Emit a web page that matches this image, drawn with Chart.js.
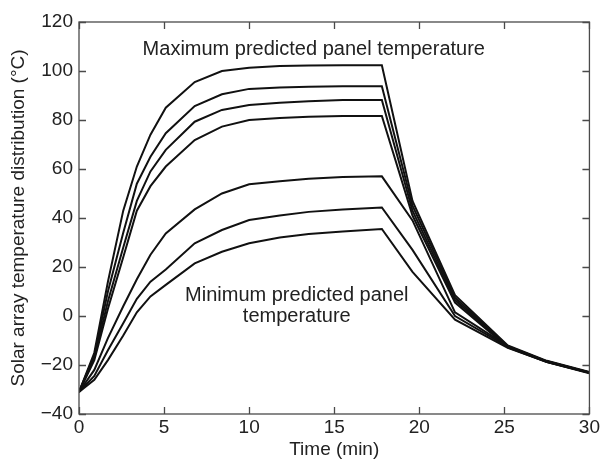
<!DOCTYPE html>
<html>
<head>
<meta charset="utf-8">
<script src="https://cdn.jsdelivr.net/npm/chart.js@4/dist/chart.umd.min.js"></script>
<style>
  html, body { margin: 0; padding: 0; background: #fff; }
  #wrap { width: 602px; height: 463px; }
</style>
</head>
<body>
<div id="wrap"><canvas id="c" width="602" height="463"></canvas></div>
<script>
const times = [0, 0.9, 1.7, 2.6, 3.4, 4.2, 5.1, 6.8, 8.4, 10, 11.8, 13.5, 15.5, 17.8, 19.6, 22.1, 25.2, 27.5, 30];
const curve1 = [-31, -15, 14, 43, 61, 74, 85, 95.5, 100, 101.3, 102, 102.2, 102.3, 102.3, 47, 8.5, -12, -18.3, -22.8];
const curve2 = [-31, -16, 10, 34, 54, 65, 74.6, 85.7, 90.5, 92.7, 93.3, 93.6, 93.8, 93.8, 45, 7.5, -12.3, -18.5, -23];
const curve3 = [-31, -17, 6, 28, 47, 59, 67.8, 79.3, 84.1, 86.1, 87, 87.7, 88.2, 88.2, 43, 6.5, -12.6, -18.7, -23.2];
const curve4 = [-31, -18, 3, 24, 43, 53, 61, 71.8, 77.3, 80, 80.8, 81.3, 81.6, 81.6, 41, 5.5, -12.8, -18.8, -23.4];
const curve5 = [-31, -22, -9, 4, 15, 25, 33.7, 43.5, 50, 53.8, 55, 56, 56.7, 57, 39, 1.5, -12.3, -18.5, -23];
const curve6 = [-31, -24.5, -14, -3, 7, 14, 19, 29.7, 35.1, 39.2, 41, 42.5, 43.5, 44.3, 27, 0, -12.6, -18.6, -23.1];
const curve7 = [-31, -26, -18, -8, 1.5, 8, 12.7, 21.5, 26.2, 29.7, 32, 33.5, 34.5, 35.5, 18, -1.5, -13, -18.8, -23.2];
const curves = [curve1, curve2, curve3, curve4, curve5, curve6, curve7];
const xTicks = [0, 5, 10, 15, 20, 25, 30];
const yTicks = [-40, -20, 0, 20, 40, 60, 80, 100, 120];
const xTitle = 'Time (min)';
const yTitle = 'Solar array temperature distribution (°C)';
const maxLabel = 'Maximum predicted panel temperature';
const minLabel = ['Minimum predicted panel', 'temperature'];

const FONT = '"Liberation Sans", Arial, Helvetica, sans-serif';
const fmt = v => (v < 0 ? '\u2212' + Math.abs(v) : String(v));

const framePlugin = {
  id: 'frame',
  afterDraw(chart) {
    const { ctx, chartArea: a, scales: { x, y } } = chart;
    ctx.save();
    ctx.strokeStyle = '#4a4a4a';
    ctx.lineWidth = 1.3;
    ctx.strokeRect(a.left, a.top, a.right - a.left, a.bottom - a.top);
    const L = 7;
    ctx.beginPath();
    xTicks.forEach(v => {
      const px = Math.round(x.getPixelForValue(v)) + 0.5;
      ctx.moveTo(px, a.bottom); ctx.lineTo(px, a.bottom - L);
      ctx.moveTo(px, a.top); ctx.lineTo(px, a.top + L);
    });
    yTicks.forEach(v => {
      const py = Math.round(y.getPixelForValue(v)) + 0.5;
      ctx.moveTo(a.left, py); ctx.lineTo(a.left + L, py);
      ctx.moveTo(a.right, py); ctx.lineTo(a.right - L, py);
    });
    ctx.stroke();
    ctx.fillStyle = '#222';
    ctx.font = '20px ' + FONT;
    ctx.textAlign = 'center';
    ctx.textBaseline = 'middle';
    ctx.fillText(maxLabel, x.getPixelForValue(13.8), y.getPixelForValue(108.6));
    ctx.fillText(minLabel[0], x.getPixelForValue(12.8), y.getPixelForValue(8.2));
    ctx.fillText(minLabel[1], x.getPixelForValue(12.8), y.getPixelForValue(0));
    ctx.restore();
  }
};

new Chart(document.getElementById('c'), {
  type: 'line',
  data: {
    datasets: curves.map((c, i) => ({
      label: 'Curve ' + (i + 1),
      data: times.map((t, j) => ({ x: t, y: c[j] })),
      borderColor: '#111',
      borderWidth: 2,
      pointRadius: 0,
      tension: 0,
      fill: false
    }))
  },
  options: {
    responsive: false,
    animation: false,
    devicePixelRatio: 1,
    layout: { padding: { top: 22, right: 11, left: 0, bottom: 0 } },
    plugins: { legend: { display: false }, tooltip: { enabled: false } },
    scales: {
      x: {
        type: 'linear', min: 0, max: 30,
        afterFit: s => { s.height = 49; },
        afterBuildTicks: s => { s.ticks = xTicks.map(v => ({ value: v })); },
        grid: { display: false, drawTicks: false },
        border: { display: false },
        ticks: { padding: 2, color: '#222', font: { family: FONT, size: 19 }, callback: fmt, maxRotation: 0 },
        title: { display: true, text: xTitle, color: '#222', font: { family: FONT, size: 19 }, padding: { top: 0, bottom: 2 } }
      },
      y: {
        type: 'linear', min: -40, max: 120,
        afterFit: s => { s.width = 79; },
        afterBuildTicks: s => { s.ticks = yTicks.map(v => ({ value: v })); },
        grid: { display: false, drawTicks: false },
        border: { display: false },
        ticks: { padding: 6, color: '#222', font: { family: FONT, size: 19 }, callback: fmt },
        title: { display: true, text: yTitle, color: '#222', font: { family: FONT, size: 19 }, padding: { top: 7, bottom: 0 } }
      }
    }
  },
  plugins: [framePlugin]
});
</script>
</body>
</html>
